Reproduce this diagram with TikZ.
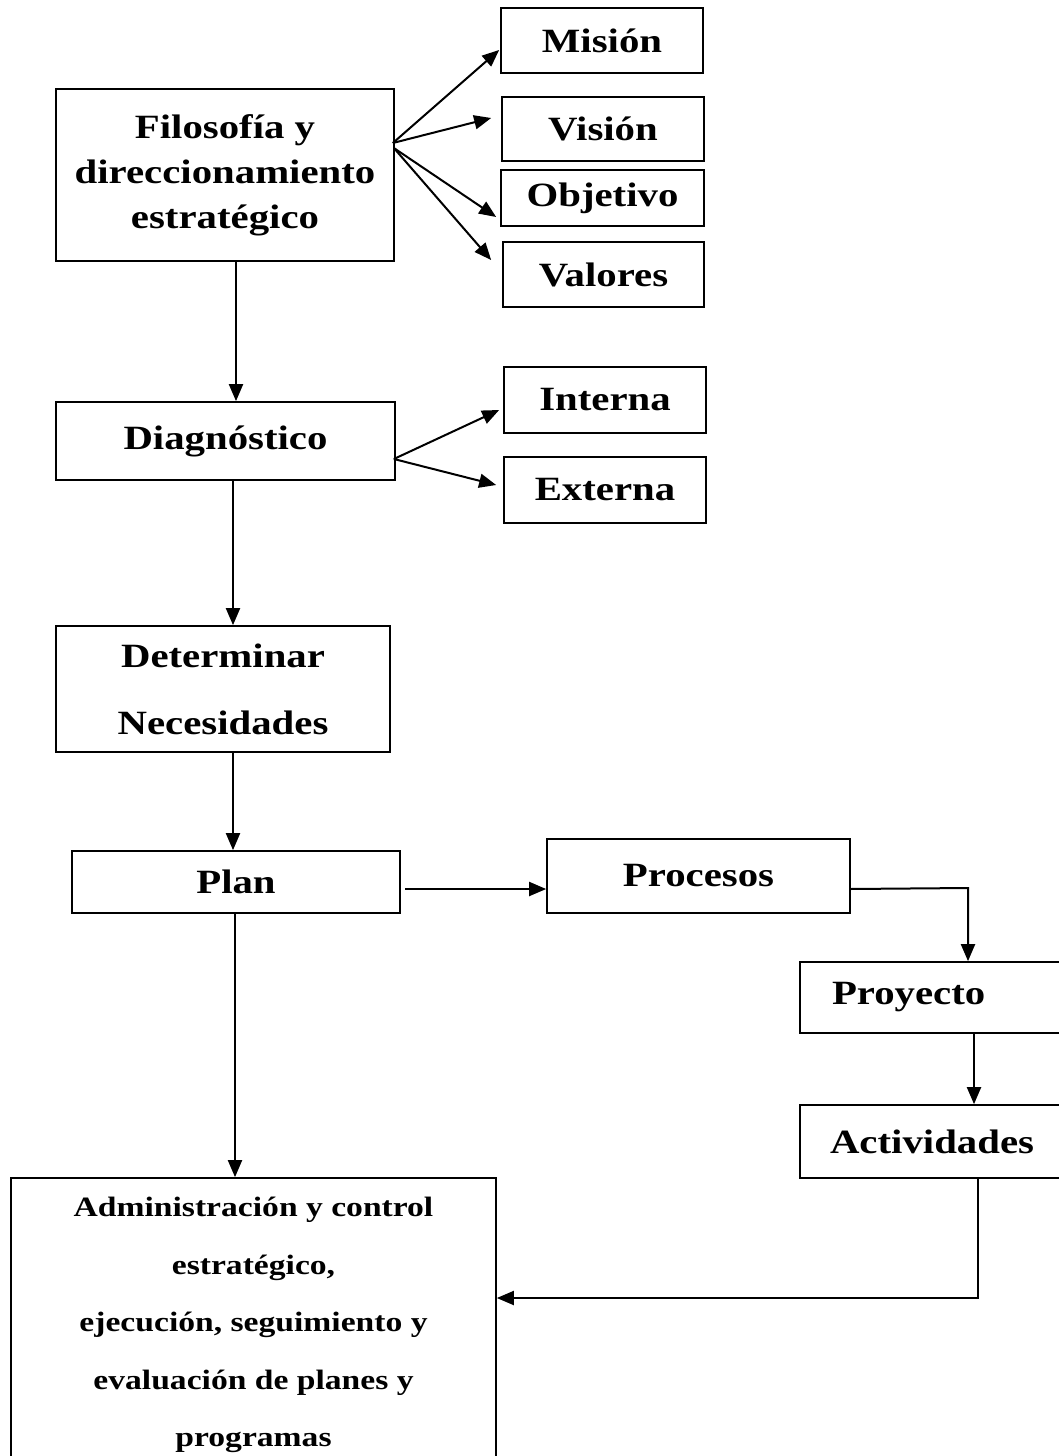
\documentclass[tikz,border=0pt]{standalone}
\usepackage{fontspec}
\setmainfont[FakeStretch=1.2]{Liberation Serif}
\usetikzlibrary{arrows.meta}
\begin{document}
\begin{tikzpicture}[x=0.5pt,y=-0.5pt,
  box/.style={draw, line width=0.85pt, inner sep=0pt, align=center,
    font=\bfseries\fontsize{17}{22.5}\selectfont},
  arr/.style={line width=1pt, -{Triangle[length=8.5pt,width=7pt]}}]
\useasboundingbox (0,0) rectangle (1059,1456);
% nodes
\node[box, minimum width=169pt, minimum height=86pt] (fil) at (225,175)
  {Filosofía y\\direccionamiento\\estratégico};
\node[box, minimum width=101pt, minimum height=32.5pt] (mis) at (602,40.5) {Misión};
\node[box, minimum width=101pt, minimum height=32pt] (vis) at (603,129) {Visión};
\node[box, minimum width=101.5pt, minimum height=28pt] (obj) at (602.5,198) {Objetivo};
\node[box, minimum width=100.5pt, minimum height=32.5pt] (val) at (603.5,274.5) {Valores};
\node[box, minimum width=169.5pt, minimum height=39pt] (diag) at (225.5,441) {Diagnóstico};
\node[box, minimum width=101pt, minimum height=33pt] (int) at (605,400) {Interna};
\node[box, minimum width=101pt, minimum height=33pt] (ext) at (605,490) {Externa};
\node[box, minimum width=167pt, minimum height=63pt,
  font=\bfseries\fontsize{17}{33.5}\selectfont] (det) at (223,689)
  {Determinar\\Necesidades};
\node[box, minimum width=164pt, minimum height=31pt] (plan) at (236,882) {Plan};
\node[box, minimum width=151.5pt, minimum height=37pt] (proc) at (698.5,876) {Procesos};
\node[box, minimum width=132pt, minimum height=35.5pt, inner xsep=16pt,
  text width=100pt, align=left] (proy) at (932,997.5) {Proyecto};
\node[box, minimum width=132pt, minimum height=36.5pt] (act) at (932,1141.5) {Actividades};
\node[box, minimum width=242.5pt, minimum height=147pt,
  font=\bfseries\fontsize{14}{28.75}\selectfont] (adm) at (253.5,1325)
  {Administración y control\\estratégico,\\ejecución, seguimiento y\\evaluación de planes y\\programas};
% fan from Filosofía
\coordinate (fo1) at ([shift={(-2,-32)}]fil.east);
\coordinate (fo2) at ([shift={(-1,-27)}]fil.east);
\draw[arr] (fo1) -- ([shift={(-1,9.5)}]mis.west);
\draw[arr] (fo1) -- ([shift={(-10,-11)}]vis.west);
\draw[arr] (fo2) -- ([shift={(-4,19)}]obj.west);
\draw[arr] (fo2) -- ([shift={(-11,-14.5)}]val.west);
% fan from Diagnóstico
\coordinate (do) at ([shift={(-2,18)}]diag.east);
\draw[arr] (do) -- ([shift={(-4,10)}]int.west);
\draw[arr] (do) -- ([shift={(-7,-5)}]ext.west);
% vertical chain
\coordinate (a1) at (236,261);
\draw[arr] (a1) -- (a1 |- diag.north);
\coordinate (a2) at (233,480);
\draw[arr] (a2) -- (a2 |- det.north);
\coordinate (a3) at (233,752);
\draw[arr] (a3) -- (a3 |- plan.north);
\coordinate (a4) at (235,913);
\draw[arr] (a4) -- (a4 |- adm.north);
% plan -> procesos
\coordinate (p1) at (405,889);
\draw[arr] (p1) -- (p1 -| proc.west);
% procesos -> proyecto
\coordinate (q1) at (850,889);
\coordinate (q2) at (968,888);
\draw[arr] (q1) -- (q2) -- (q2 |- proy.north);
% proyecto -> actividades
\coordinate (r1) at (974,1033);
\draw[arr] (r1) -- (r1 |- act.north);
% actividades -> administración
\coordinate (s1) at (978,1178);
\coordinate (s2) at (978,1298);
\draw[arr] (s1) -- (s2) -- (s2 -| adm.east);
\end{tikzpicture}
\end{document}
